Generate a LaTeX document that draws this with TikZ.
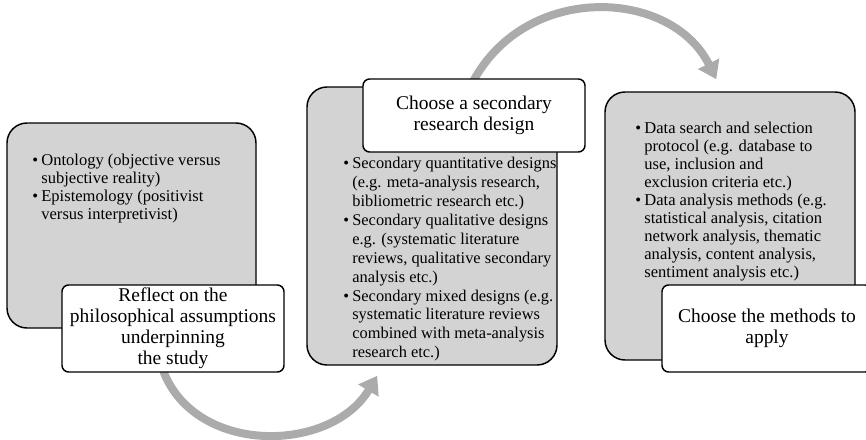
\documentclass[tikz,border=0pt]{standalone}
\usepackage{fontspec}
\setmainfont{Liberation Serif}
\usepackage{xcolor}
\usetikzlibrary{positioning,arrows.meta,fit,backgrounds,calc}
\definecolor{boxgray}{RGB}{211,211,211}
\definecolor{flowgray}{RGB}{171,171,171}

\begin{document}
\begin{tikzpicture}[
                x=0.75pt, y=-0.75pt,
                >={Triangle[length=13pt,width=17pt]},
                phasebox/.style={rectangle, rounded corners=15pt, draw=black, line width=1.1pt, fill=boxgray, inner sep=0pt},
                stepbox/.style={rectangle, rounded corners=5pt, draw=black, line width=1.1pt, fill=white, inner sep=0pt, align=center, font=\fontsize{14.6}{15.8}\selectfont},
                itemtext/.style={anchor=north west, inner sep=0pt, align=left, font=\fontsize{12.4}{13.5}\selectfont},
                flow/.style={->, line width=6pt, draw=flowgray}
                ]
                \useasboundingbox (0,0) rectangle (866,439);

                % grey phase panels
                \node[phasebox, fit={(7,123) (256,328)}] (philo) {};
                \node[phasebox, fit={(307,87) (557,365)}] (design) {};
                \node[phasebox, fit={(605,92) (855,360)}] (methods) {};

                \node[itemtext] (philolist) at (32,153) {\begin{tabular}{@{}l@{\hspace{2.5pt}}l@{}}
                    \textbullet & Ontology (objective versus\\
                                & subjective reality)\\
                    \textbullet & Epistemology (positivist\\
                                & versus interpretivist)
                    \end{tabular}};
                \node[itemtext, font=\fontsize{12.3}{14.2}\selectfont] (designlist) at (343,155) {\begin{tabular}{@{}l@{\hspace{2.5pt}}l@{}}
                    \textbullet & Secondary quantitative designs\\
                                & (e.g. meta-analysis research,\\
                                & bibliometric research etc.)\\
                    \textbullet & Secondary qualitative designs\\
                                & e.g. (systematic literature\\
                                & reviews, qualitative secondary\\
                                & analysis etc.)\\
                    \textbullet & Secondary mixed designs (e.g.\\
                                & systematic literature reviews\\
                                & combined with meta-analysis\\
                                & research etc.)
                    \end{tabular}};
                \node[itemtext] (methodslist) at (635,121) {\begin{tabular}{@{}l@{\hspace{2.5pt}}l@{}}
                    \textbullet & Data search and selection\\
                                & protocol (e.g. database to\\
                                & use, inclusion and\\
                                & exclusion criteria etc.)\\
                    \textbullet & Data analysis methods (e.g.\\
                                & statistical analysis, citation\\
                                & network analysis, thematic\\
                                & analysis, content analysis,\\
                                & sentiment analysis etc.)
                    \end{tabular}};

                % white step titles
                \node[stepbox, minimum width=166.5pt, minimum height=65.25pt] (philotitle) at (173,328.5) {Reflect on the\\philosophical assumptions\\underpinning\\the study};
                \node[stepbox, minimum width=166.5pt, minimum height=54.75pt] (designtitle) at (474,115.5) {Choose a secondary\\research design};
                \node[stepbox, minimum width=157.5pt, minimum height=65.25pt] (methodstitle) at (767,328.5) {Choose the methods to\\apply};

                % curved grey arrows behind the panels
                \begin{scope}[on background layer]
                \draw[flow] ($(philotitle.south)+(-13,-12)$) .. controls +(25,95) and +(-48,80) .. ($(design.south west)+(71,10)$);
                \draw[flow] ($(designtitle.north)+(-9,21)$) .. controls +(45,-118) and +(-47,-95) .. ($(methods.north west)+(112,-12)$);
                \end{scope}
            \end{tikzpicture}
\end{document}
